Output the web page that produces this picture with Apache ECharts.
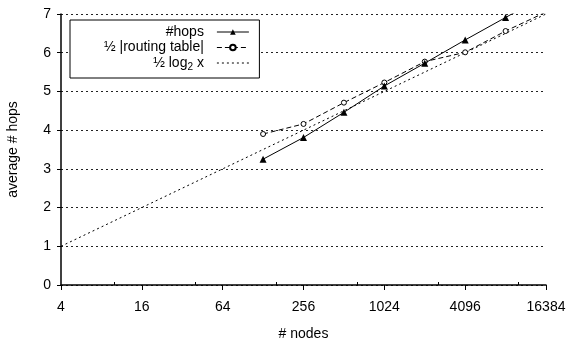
<!DOCTYPE html>
<html>
<head>
<meta charset="utf-8">
<script src="https://cdn.jsdelivr.net/npm/echarts@6/dist/echarts.min.js"></script>
<style>
  html, body { margin: 0; padding: 0; background: #fff; }
  #chart { width: 571px; height: 343px; }
</style>
</head>
<body>
<div id="chart"></div>
<script>
// Network sizes (number of nodes) and measured averages
const nodes = [128, 256, 512, 1024, 2048, 4096, 8192, 16384];
const hops = [3.25, 3.81, 4.46, 5.14, 5.73, 6.33, 6.91, 7.49];
const halfRoutingTable = [3.90, 4.16, 4.71, 5.23, 5.77, 6.01, 6.56, 7.05];

// Reference curve: half of log2 of the network size
const refNodes = [4, 16384];
const refHalfLog2 = [1, 7];

const xTicks = [4, 16, 64, 256, 1024, 4096, 16384];

const seriesNames = ['#hops', '½ |routing table|', '½ log2 x'];

const FONT = 'Liberation Sans, Arial, Helvetica, sans-serif';

function pairs(xs, ys) {
  return xs.map((x, i) => [x, ys[i]]);
}

const chart = echarts.init(document.getElementById('chart'), null, { renderer: 'canvas' });

chart.setOption({
  animation: false,
  backgroundColor: '#fff',
  textStyle: { fontFamily: FONT },
  grid: { left: 61, right: 25, top: 14, bottom: 58, containLabel: false, outerBoundsMode: 'none' },
  legend: {
    orient: 'vertical',
    left: 70,
    top: 20,
    align: 'right',
    data: [
      { name: seriesNames[0] },
      { name: seriesNames[1] },
      // plain dotted reference line: no marker in its key
      { name: seriesNames[2], itemStyle: { opacity: 0 } }
    ],
    backgroundColor: '#fff',
    borderColor: '#000',
    borderWidth: 1,
    borderRadius: 0,
    padding: [5, 10, 6, 34],
    itemWidth: 32,
    itemHeight: 7,
    itemGap: 1.5,
    lineStyle: { width: 1 },
    textStyle: {
      fontFamily: FONT,
      fontSize: 14,
      color: '#000',
      padding: [0, 8, 0, 0],
      rich: {
        sub: { fontFamily: FONT, fontSize: 10, color: '#000', verticalAlign: 'bottom', padding: [8, 0, 0, 0] }
      }
    },
    formatter: function (name) {
      if (name === seriesNames[2]) return '½ log{sub|2} x';
      return name;
    }
  },
  xAxis: {
    type: 'log',
    logBase: 2,
    min: 4,
    max: 16384,
    interval: 2,
    name: '# nodes',
    nameLocation: 'middle',
    nameGap: 42,
    nameTextStyle: { fontFamily: FONT, fontSize: 14, color: '#000' },
    axisLine: { show: true, lineStyle: { color: '#000', width: 1.5 } },
    axisTick: { show: true, inside: false, length: 5, lineStyle: { color: '#000', width: 1 } },
    minorTick: { show: true, splitNumber: 2, length: -3, lineStyle: { color: '#000', width: 1 } },
    axisLabel: {
      fontFamily: FONT, fontSize: 14, color: '#000', margin: 15,
      formatter: function (v) { return String(Math.round(v)); }
    },
    splitLine: { show: false },
    minorSplitLine: { show: false }
  },
  yAxis: {
    type: 'value',
    min: 0,
    max: 7,
    interval: 1,
    name: 'average # hops',
    nameLocation: 'middle',
    nameGap: 41,
    nameRotate: 90,
    nameTextStyle: { fontFamily: FONT, fontSize: 14, color: '#000' },
    axisLine: { show: true, lineStyle: { color: '#000', width: 1.5 } },
    axisTick: { show: true, inside: false, length: 4, lineStyle: { color: '#000', width: 1 } },
    axisLabel: { fontFamily: FONT, fontSize: 14, color: '#000', margin: 10 },
    splitLine: { show: true, lineStyle: { color: '#222', width: 1, type: [2, 3] } }
  },
  series: [
    {
      name: seriesNames[0],
      type: 'line',
      data: pairs(nodes, hops),
      clip: true,
      symbol: 'triangle',
      symbolSize: 7,
      showAllSymbol: true,
      lineStyle: { color: '#000', width: 1, type: 'solid' },
      itemStyle: { color: '#000', borderColor: '#000', borderWidth: 0 },
      z: 4
    },
    {
      name: seriesNames[1],
      type: 'line',
      data: pairs(nodes, halfRoutingTable),
      clip: true,
      symbol: 'circle',
      symbolSize: 5,
      showAllSymbol: true,
      lineStyle: { color: '#000', width: 1, type: [5, 3] },
      itemStyle: { color: '#fff', borderColor: '#000', borderWidth: 1 },
      z: 3
    },
    {
      name: seriesNames[2],
      type: 'line',
      data: pairs(refNodes, refHalfLog2),
      clip: true,
      symbol: 'none',
      lineStyle: { color: '#000', width: 1, type: [2, 3] },
      itemStyle: { color: '#000' },
      z: 2
    }
  ]
});
</script>
</body>
</html>
